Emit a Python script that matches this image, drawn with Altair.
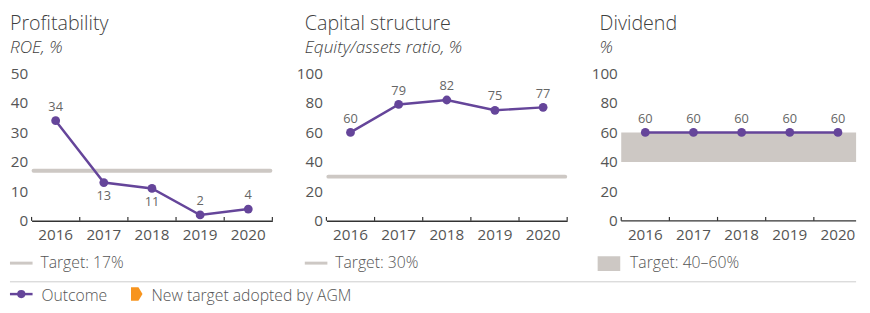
import altair as alt
import pandas as pd

# ---- data ----
years = ["2016", "2017", "2018", "2019", "2020"]
roe = [34, 13, 11, 2, 4]
equity_ratio = [60, 79, 82, 75, 77]
dividend = [60, 60, 60, 60, 60]
roe_target = [17]
equity_target = [30]
dividend_target_low = [40]
dividend_target_high = [60]
roe_labels_below = ["2017", "2018"]

titles = ["Profitability", "Capital structure", "Dividend"]
subtitles = ["ROE, %", "Equity/assets ratio, %", "%"]
target_texts = ["Target: 17%", "Target: 30%", "Target: 40\u201360%"]
legend_texts = ["Outcome", "New target adopted by AGM"]

# ---- styling ----
PURPLE = "#65459a"
GRAY = "#cdc8c4"
ORANGE = "#f7941e"
LABEL = "#555555"
TITLE = "#3f3f3f"
FONT = "Open Sans"
W, H = 245, 150
W3 = 239  # last panel is cut by the page edge

one = pd.DataFrame({"k": [0]})


def text_layer(txt, x, y, size, color, italic=False, weight=None):
    kw = dict(text=txt, fontSize=size, color=color, font=FONT, align="left", baseline="alphabetic")
    if italic:
        kw["fontStyle"] = "italic"
    if weight is not None:
        kw["fontWeight"] = weight
    return alt.Chart(one).mark_text(**kw).encode(x=alt.value(x), y=alt.value(y))


def x_enc(band=0.5, domain=True):
    ax = alt.Axis(title=None, labelAngle=0, ticks=False, tickSize=0, domain=domain,
                  domainColor="#333333", domainWidth=1.5, labelFontSize=15.5, labelFont=FONT,
                  labelColor=LABEL, labelPadding=7, grid=False)
    return alt.X("year:N", scale=alt.Scale(type="band", paddingInner=0, paddingOuter=0, range=[0, W]),
                 bandPosition=band, axis=ax, sort=years)


def y_enc(field, ymax, ystep):
    return alt.Y(field, title=None,
                 scale=alt.Scale(domain=[0, ymax], nice=False, zero=True),
                 axis=alt.Axis(values=list(range(0, ymax + 1, ystep)), domain=False, ticks=False,
                               tickSize=0, grid=False, labelFontSize=15.5, labelFont=FONT,
                               labelColor=LABEL, labelPadding=4, labelOverlap=False,
                               labelFlush=False))


def panel(values, ymax, ystep, idx, target_layer, swatch_layer, width, below=(), right_tick=True):
    df = pd.DataFrame({"year": years, "value": values})
    dom = width == W
    y = y_enc("value:Q", ymax, ystep)
    base = alt.Chart(df)
    line = base.mark_line(color=PURPLE, strokeWidth=2.5).encode(x=x_enc(domain=dom), y=y)
    pts = base.mark_circle(color=PURPLE, size=80, opacity=1).encode(x=x_enc(domain=dom), y=y)
    above = base.transform_filter(
        alt.FieldOneOfPredicate(field="year", oneOf=[yr for yr in years if yr not in below])
    ).mark_text(dy=-14, fontSize=13, font=FONT, color="#666666", baseline="middle").encode(
        x=x_enc(domain=dom), y=y, text="value:Q")
    layers = [target_layer, line, pts, above]
    if below:
        under = base.transform_filter(
            alt.FieldOneOfPredicate(field="year", oneOf=list(below))
        ).mark_text(dy=14, fontSize=13, font=FONT, color="#666666", baseline="middle").encode(
            x=x_enc(domain=dom), y=y, text="value:Q")
        layers.append(under)
    ticks_left = base.mark_rule(color="#333333", strokeWidth=1.2).encode(
        x=x_enc(0.0, domain=dom), y=alt.value(H), y2=alt.value(H - 4))
    layers.append(ticks_left)
    if right_tick:
        ticks_right = base.transform_filter(alt.datum.year == years[-1]).mark_rule(
            color="#333333", strokeWidth=1.2).encode(x=x_enc(1.0, domain=dom), y=alt.value(H),
                                                      y2=alt.value(H - 4))
        layers.append(ticks_right)
    if not dom:
        layers.append(alt.Chart(one).mark_rule(color="#333333", strokeWidth=1.5).encode(
            x=alt.value(0), x2=alt.value(width), y=alt.value(H)))
    layers += [
        text_layer(titles[idx], -22, -44, 20, TITLE, weight=300),
        text_layer(subtitles[idx], -22, -21, 17.5, TITLE, italic=True, weight=300),
        swatch_layer,
        text_layer(target_texts[idx], 9, 198, 16, LABEL, weight=300),
    ]
    return layers


def target_rule(vals, ymax, ystep):
    return alt.Chart(pd.DataFrame({"value": vals})).mark_rule(
        color=GRAY, strokeWidth=4, strokeCap="round").encode(
        y=y_enc("value:Q", ymax, ystep), x=alt.value(2), x2=alt.value(W - 2))


def swatch_line():
    return alt.Chart(one).mark_rule(color=GRAY, strokeWidth=3).encode(
        x=alt.value(-22), x2=alt.value(1), y=alt.value(193))


band = alt.Chart(pd.DataFrame({"value": dividend_target_low, "hi": dividend_target_high})).mark_rect(
    color=GRAY).encode(y=y_enc("value:Q", 100, 20), y2="hi:Q", x=alt.value(0), x2=alt.value(W3))
swatch_rect = alt.Chart(one).mark_rect(color=GRAY).encode(
    x=alt.value(-24), x2=alt.value(-1), y=alt.value(186), y2=alt.value(201))

l1 = panel(roe, 50, 10, 0, target_rule(roe_target, 50, 10), swatch_line(), W, below=roe_labels_below)
l2 = panel(equity_ratio, 100, 20, 1, target_rule(equity_target, 100, 20), swatch_line(), W)
l3 = panel(dividend, 100, 20, 2, band, swatch_rect, W3, right_tick=False)

# separator and bottom legend (in first panel's coordinates)
LEG_BASE = 232
LEG_Y = LEG_BASE - 7.5
sep = alt.Chart(one).mark_rule(color="#cccccc", strokeWidth=1).encode(
    x=alt.value(-22), x2=alt.value(600 + W3), y=alt.value(212))
leg_line = alt.Chart(one).mark_rule(color=PURPLE, strokeWidth=2.5).encode(
    x=alt.value(-22), x2=alt.value(1), y=alt.value(LEG_Y))
leg_dot = alt.Chart(one).mark_circle(color=PURPLE, size=70, opacity=1).encode(
    x=alt.value(-10.5), y=alt.value(LEG_Y))
leg_flag = alt.Chart(one).mark_point(
    shape="M -0.85 -1 L 0.25 -1 L 0.85 0 L 0.25 1 L -0.85 1 Z", filled=True, color=ORANGE,
    size=190, opacity=1).encode(x=alt.value(107), y=alt.value(LEG_Y))
leg_t1 = text_layer(legend_texts[0], 10, LEG_BASE, 16, LABEL, weight=300)
leg_t2 = text_layer(legend_texts[1], 122, LEG_BASE, 16, LABEL, weight=300)
l1 += [sep, leg_line, leg_dot, leg_flag, leg_t1, leg_t2]

p1 = alt.layer(*l1).properties(width=W, height=H)
p2 = alt.layer(*l2).properties(width=W, height=H)
p3 = alt.layer(*l3).properties(width=W3, height=H)

chart = alt.hconcat(p1, p2, p3, spacing=55, bounds="flush").properties(
    padding={"left": 0, "top": 4, "right": 0, "bottom": -2}
).configure_view(stroke=None)

chart.save("out.html", embed_options={"renderer": "svg", "actions": False})
